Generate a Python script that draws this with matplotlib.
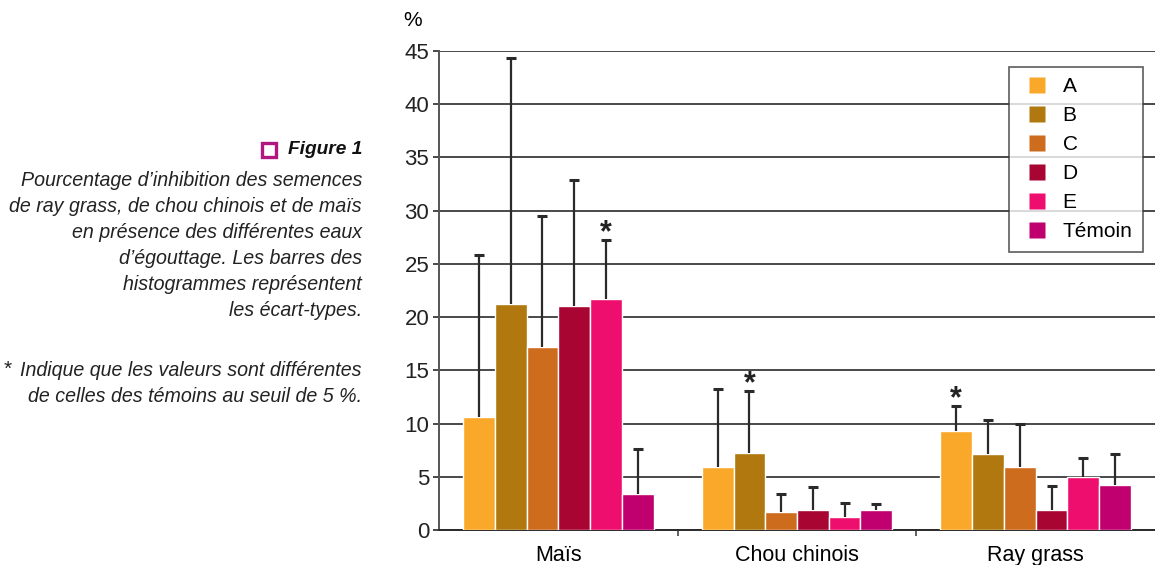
import matplotlib
matplotlib.use("Agg")
import matplotlib.pyplot as plt
import matplotlib.patches as mpatches
from matplotlib.lines import Line2D
import numpy as np

categories = ["Maïs", "Chou chinois", "Ray grass"]
series = ["A", "B", "C", "D", "E", "Témoin"]
colors = ["#F9A829", "#B0780F", "#CE6C1E", "#A80532", "#EE0E6E", "#C0006E"]

# values per series across categories (Maïs, Chou chinois, Ray grass)
val_A = [10.6, 5.9, 9.3]
val_B = [21.2, 7.2, 7.1]
val_C = [17.2, 1.7, 5.9]
val_D = [21.0, 1.9, 1.9]
val_E = [21.7, 1.25, 4.95]
val_T = [3.4, 1.9, 4.2]
err_A = [15.2, 7.3, 2.35]
err_B = [23.1, 5.9, 3.2]
err_C = [12.3, 1.65, 4.1]
err_D = [11.9, 2.15, 2.2]
err_E = [5.55, 1.25, 1.85]
err_T = [4.2, 0.5, 2.9]
# significance markers: (series index, category index)
signif = [(4, 0), (1, 1), (0, 2)]

values = [val_A, val_B, val_C, val_D, val_E, val_T]
errors = [err_A, err_B, err_C, err_D, err_E, err_T]

plt.rcParams['font.family'] = ['Liberation Sans', 'DejaVu Sans']

fig = plt.figure(figsize=(11.55, 5.65), dpi=100)
ax = fig.add_axes([439/1155, 35/565, 716/1155, 479/565])

n = len(series)
bw = 0.133
x = np.arange(len(categories))
for i, (vals, errs, col, name) in enumerate(zip(values, errors, colors, series)):
    pos = x + (i - (n - 1) / 2) * bw
    vals = np.array(vals)
    errs = np.array(errs)
    ax.bar(pos, vals, width=bw, color=col, edgecolor="white", linewidth=1.0,
           zorder=3)
    ax.vlines(pos, vals, vals + errs, color="#2a2a2a", linewidth=1.6, zorder=4)
    ax.plot(pos, vals + errs, linestyle="none", marker="_", markersize=7,
            markeredgewidth=2.2, color="#2a2a2a", zorder=4)

for si, ci in signif:
    pos = x[ci] + (si - (n - 1) / 2) * bw
    top = values[si][ci] + errors[si][ci]
    ax.text(pos, top - 0.8, "*", ha="center", va="bottom", fontsize=22,
            color="#222222", fontweight="bold")

ax.set_xlim(-0.5, 2.5)
ax.set_ylim(0, 45)
ax.set_yticks(np.arange(0, 46, 5))
ax.yaxis.grid(True, color="#2a2a2a", linewidth=1.2, zorder=0)
ax.set_axisbelow(True)
ax.set_xticks(x)
ax.set_xticklabels(categories, fontsize=15.5)
ax.set_xticks([0.5, 1.5], minor=True)
ax.tick_params(axis="x", which="major", length=0, pad=11)
ax.tick_params(axis="x", which="minor", length=4, width=1.2, color="#444444")
ax.tick_params(axis="y", length=4, width=1.2, labelsize=16, pad=3, color="#2a2a2a",
               labelcolor="#222222")
for s in ["top", "right"]:
    ax.spines[s].set_visible(False)
ax.spines["left"].set_color("#555555")
ax.spines["left"].set_linewidth(1.4)
ax.spines["bottom"].set_color("#2a2a2a")
ax.spines["bottom"].set_linewidth(1.4)

fig.text(413/1155, 1 - 21/565, "%", ha="center", va="center", fontsize=15)

handles = [Line2D([], [], linestyle="none", marker="s", markersize=11.5,
                  markerfacecolor=c, markeredgecolor="none") for c in colors]
leg = ax.legend(handles, series, loc="upper right",
                bbox_to_anchor=(1143/1155, 1 - 67/565),
                bbox_transform=fig.transFigure, fontsize=15, frameon=True,
                fancybox=False, edgecolor="#333333", handlelength=1.68,
                handletextpad=0.41, labelspacing=0.48,
                borderpad=0.5, borderaxespad=0)
leg.get_frame().set_linewidth(1.2)

# caption
cap_x = 362/1155
fs = 14.1
fig.text(cap_x, 1 - 150/565, "Figure 1", ha="right", va="center", fontsize=13.8,
         style="italic", weight="bold", color="#111111")
fig.patches.append(mpatches.Rectangle((262/1155, 1 - 157/565), 14/1155, 14/565,
                                      transform=fig.transFigure, fill=False,
                                      edgecolor="#B0177F", linewidth=2.4))
lines = ["Pourcentage d\u2019inhibition des semences",
         "de ray grass, de chou chinois et de maïs",
         "en présence des différentes eaux",
         "d\u2019égouttage. Les barres des",
         "histogrammes représentent",
         "les écart-types."]
for k, t in enumerate(lines):
    fig.text(cap_x, 1 - (181 + 25.8 * k)/565, t, ha="right", va="center",
             fontsize=fs, style="italic", color="#222222")
fig.text(cap_x, 1 - 371/565, "Indique que les valeurs sont différentes", ha="right",
         va="center", fontsize=fs, style="italic", color="#222222")
fig.text(cap_x, 1 - 397/565, "de celles des témoins au seuil de 5 %.", ha="right",
         va="center", fontsize=fs, style="italic", color="#222222")
fig.text(8/1155, 1 - 369/565, "*", ha="center", va="center", fontsize=15, color="#222222")

fig.savefig("out.png", dpi=100)
